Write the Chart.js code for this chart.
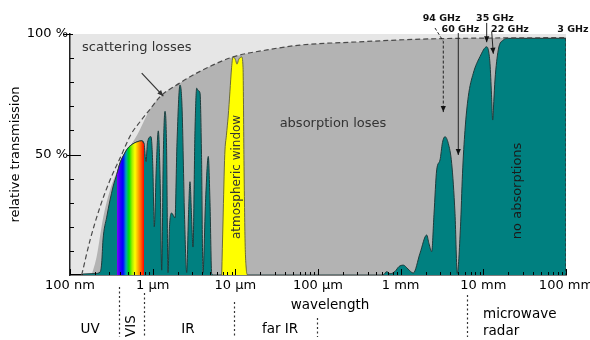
<!DOCTYPE html>
<html>
<head>
<meta charset="utf-8">
<script src="https://cdn.jsdelivr.net/npm/chart.js@4.4.0/dist/chart.umd.min.js"></script>
<style>
  html, body { margin: 0; padding: 0; background: #fff; }
  #wrap { width: 590px; height: 340px; }
</style>
</head>
<body>
<div id="wrap"><canvas id="transChart" width="590" height="340"></canvas></div>
<script>
// wavelengths in micrometres, transmission in percent
const tickValues = [0.1, 1, 10, 100, 1000, 10000, 100000];
const tickLabels = ["100 nm", "1 µm", "10 µm", "100 µm", "1 mm", "10 mm", "100 mm"];
const yTickValues = [50, 100];
const yTickLabels = ["50 %", "100 %"];

// dashed scattering limit
const scatterLambda = [0.1385, 0.175, 0.231, 0.305, 0.403, 0.55, 0.703, 0.93, 1.23, 2.14, 3.74, 9.37, 24.2, 60.6, 296, 1862, 9900, 100000];
const scatterPct = [0, 14.5, 28.3, 39.4, 48.5, 58.5, 63.6, 68.8, 74, 79.7, 84.5, 90.5, 93.4, 95.4, 96.7, 97.9, 98.3, 98.5];

// grey absorption envelope
const envelopeLambda = [0.183, 0.21, 0.253, 0.305, 0.403, 0.503, 0.646, 0.93, 1.23, 2.14, 3.74, 9.37, 24.2, 60.6, 296, 1862, 9900, 100000];
const envelopePct = [0, 7.6, 24.2, 35.3, 45.5, 52, 58, 68.8, 74, 79.7, 84.5, 90.5, 93.4, 95.4, 96.7, 97.9, 98.3, 98.5];

// measured transmission
const transLambda = [0.1436, 0.2006, 0.231, 0.2418, 0.2507, 0.278, 0.331, 0.37, 0.403, 0.45, 0.503, 0.57, 0.641, 0.737, 0.786,
  0.831, 0.866, 0.955, 1.004, 1.046, 1.107, 1.17, 1.23, 1.286, 1.345, 1.41, 1.47, 1.533, 1.598, 1.699, 1.863, 1.97, 2.14,
  2.264, 2.427, 2.58, 2.713, 2.828, 2.949, 3.075, 3.251, 3.409, 3.564, 3.74, 3.897, 4.063, 4.356, 4.71, 4.938, 5.178, 5.52,
  611, 678, 743, 854, 954, 1076, 1226, 1421, 1713, 2064, 2201, 2373, 2529, 2728, 2990, 3205, 3437, 3767, 4141, 4541, 4841,
  5292, 5595, 5998, 6574, 7556, 9110, 10980, 12034, 12550, 12977, 13380, 13834, 15165, 17434, 20038, 100000];
const transPct = [0.4, 0.6, 1.2, 5, 14.5, 24, 36.5, 42, 46.5, 50, 52.7, 54.3, 55.2, 55.7, 54.5,
  47, 55, 57.4, 45, 20, 45, 59.8, 40, 2, 50, 67.9, 55, 1, 20, 25.7, 23.7, 55, 78.8,
  70, 25, 1, 25, 38.7, 25, 11.6, 60, 77.5, 76.5, 75.5, 50, 1, 30, 49.2, 30, 0.5, 0,
  0, 1.4, 0.5, 1.5, 3.5, 4.1, 2.5, 0.8, 9, 16.6, 13, 9.7, 25, 43.6, 47.7, 55, 57.4, 54.6, 46.3, 25.6, 0.7,
  20, 42, 60, 74, 83.7, 90.6, 94.7, 87.8, 75, 64.3, 72, 80.9, 93.4, 97.5, 98.2, 98.2];

// atmospheric window (yellow)
const windowLambda = [6.84, 7.09, 7.45, 7.8, 8.2, 8.6, 9.0, 9.37, 10.0, 10.47, 11.0, 11.94, 12.4, 12.7, 13.1, 13.6, 14.0];
const windowPct = [0, 22, 50, 58, 66, 76, 86, 90.5, 89.5, 87.5, 89.5, 90.5, 86, 50, 15, 2, 0];

// visible band (rainbow)
const visLambda = [0.37, 0.403, 0.45, 0.503, 0.57, 0.641, 0.737, 0.786];
const visPct = [42, 46.5, 50, 52.7, 54.3, 55.2, 55.7, 54.5];
const visColors = ["#8000ff", "#3000ff", "#0000ff", "#00a0c0", "#00e000", "#a0f000", "#ffff00", "#ffb000", "#ff6000", "#ff0000"];

const FONT = "DejaVu Sans";

function pts(xs, ys) {
    return xs.map((x, i) => ({ x: x, y: ys[i] }));
}

function drawArrow(ctx, path, dash) {
    ctx.save();
    ctx.setLineDash(dash || []);
    ctx.beginPath();
    ctx.moveTo(path[0][0], path[0][1]);
    for (let i = 1; i < path.length; i++) ctx.lineTo(path[i][0], path[i][1]);
    ctx.stroke();
    ctx.setLineDash([]);
    const [x1, y1] = path[path.length - 1];
    const [x0, y0] = path[path.length - 2];
    const ang = Math.atan2(y1 - y0, x1 - x0);
    const L = 6, W = 2.6;
    ctx.beginPath();
    ctx.moveTo(x1, y1);
    ctx.lineTo(x1 - L * Math.cos(ang) + W * Math.sin(ang), y1 - L * Math.sin(ang) - W * Math.cos(ang));
    ctx.lineTo(x1 - L * Math.cos(ang) - W * Math.sin(ang), y1 - L * Math.sin(ang) + W * Math.cos(ang));
    ctx.closePath();
    ctx.fill();
    ctx.restore();
}

const decor = {
    id: "decor",
    beforeDraw(chart) {
        const { ctx, chartArea: a } = chart;
        ctx.save();
        ctx.fillStyle = "#e6e6e6";
        ctx.fillRect(a.left, a.top, a.right - a.left, a.bottom - a.top);
        ctx.restore();
    },
    afterDraw(chart) {
        const { ctx, chartArea: a, scales: { x, y } } = chart;
        const px = v => x.getPixelForValue(v);
        const py = v => y.getPixelForValue(v);
        ctx.save();

        // right edge of the transmission area
        ctx.strokeStyle = "#2a4040";
        ctx.lineWidth = 1;
        ctx.setLineDash([3, 2]);
        ctx.beginPath();
        ctx.moveTo(a.right - 0.5, py(transPct[transPct.length - 1]));
        ctx.lineTo(a.right - 0.5, a.bottom);
        ctx.stroke();
        ctx.setLineDash([]);

        // inward ticks on x
        ctx.strokeStyle = "#000";
        ctx.lineWidth = 1;
        ctx.beginPath();
        for (let d = 0.1; d < 100001; d *= 10) {
            const X = Math.round(px(d)) + 0.5;
            ctx.moveTo(X, a.bottom); ctx.lineTo(X, a.bottom - 6);
            if (d < 100000) {
                for (let k = 2; k < 10; k++) {
                    const Xm = Math.round(px(d * k)) + 0.5;
                    ctx.moveTo(Xm, a.bottom); ctx.lineTo(Xm, a.bottom - 3);
                }
            }
        }
        // ticks on y
        for (let v = 10; v < 100; v += 10) {
            const Y = Math.round(py(v)) + 0.5;
            if (v === 50) { ctx.moveTo(a.left - 3, Y); ctx.lineTo(a.left + 11, Y); }
            else { ctx.moveTo(a.left, Y); ctx.lineTo(a.left + 4, Y); }
        }
        const Y100 = Math.round(py(100)) + 0.5;
        ctx.moveTo(a.left - 7, Y100); ctx.lineTo(a.left + 3, Y100);
        ctx.stroke();

        // labels inside the plot
        ctx.fillStyle = "#333";
        ctx.strokeStyle = "#333";
        ctx.textAlign = "left";
        ctx.textBaseline = "middle";
        ctx.font = "13px '" + FONT + "'";
        ctx.fillText("scattering losses", px(0.1397), py(94.2));
        ctx.lineWidth = 1.2;
        drawArrow(ctx, [[px(0.737), py(83.8)], [px(1.345), py(74.2)]]);

        ctx.textAlign = "center";
        ctx.fillText("absorption loses", px(151.8), py(62.7));

        ctx.save();
        ctx.translate(px(10.47), py(40.7));
        ctx.rotate(-Math.PI / 2);
        ctx.font = "12px '" + FONT + "'";
        ctx.fillText("atmospheric window", 0, 0);
        ctx.restore();

        ctx.save();
        ctx.translate(px(26240), py(34.9));
        ctx.rotate(-Math.PI / 2);
        ctx.fillStyle = "#1a1a1a";
        ctx.fillText("no absorptions", 0, 0);
        ctx.restore();

        // GHz labels and arrows
        ctx.fillStyle = "#111";
        ctx.strokeStyle = "#222";
        ctx.font = "bold 9.5px '" + FONT + "'";
        ctx.fillText("94 GHz", px(3131), py(106.5));
        ctx.fillText("60 GHz", px(5292), py(102));
        ctx.fillText("35 GHz", px(13836), py(106.5));
        ctx.fillText("22 GHz", px(20990), py(102));
        ctx.fillText("3 GHz", px(121400), py(102));
        ctx.lineWidth = 1;
        drawArrow(ctx, [[px(2600), py(102.5)], [px(3278), py(97)], [px(3278), py(67.6)]], [3, 2]);
        drawArrow(ctx, [[px(4977), py(100.4)], [px(4977), py(49.8)]]);
        drawArrow(ctx, [[px(10980), py(104.6)], [px(10980), py(96.6)]]);
        drawArrow(ctx, [[px(12620), py(101)], [px(13200), py(91.8)]]);

        // bands below the axis
        const b = a.bottom;
        ctx.fillStyle = "#000";
        ctx.font = "13.5px '" + FONT + "'";
        ctx.fillText("wavelength", px(139.6), b + 30);
        ctx.fillText("UV", px(0.175), b + 54);
        ctx.fillText("IR", px(2.676), b + 54);
        ctx.fillText("far IR", px(34.7), b + 54);
        ctx.textAlign = "left";
        ctx.fillText("microwave", px(9908), b + 39);
        ctx.fillText("radar", px(9908), b + 56);
        ctx.save();
        ctx.translate(px(0.558), b + 51);
        ctx.rotate(-Math.PI / 2);
        ctx.textAlign = "center";
        ctx.fillText("VIS", 0, 0);
        ctx.restore();

        ctx.strokeStyle = "#333";
        ctx.lineWidth = 1.2;
        ctx.setLineDash([2, 2.5]);
        ctx.beginPath();
        [[0.3915, 12], [0.792, 18], [9.72, 27], [96.4, 43], [6290, 20]].forEach(([lam, top]) => {
            const X = Math.round(px(lam)) + 0.5;
            ctx.moveTo(X, b + top); ctx.lineTo(X, b + 62);
        });
        ctx.stroke();
        ctx.restore();
    }
};

const canvas = document.getElementById("transChart");
const ctx = canvas.getContext("2d");

new Chart(ctx, {
    type: "line",
    data: {
        datasets: [
            {
                label: "scattering",
                data: pts(scatterLambda, scatterPct),
                borderColor: "#4a4a4a",
                borderWidth: 1.2,
                borderDash: [5, 3],
                fill: false,
                cubicInterpolationMode: "monotone",
                order: 1
            },
            {
                label: "visible",
                data: pts(visLambda, visPct),
                borderColor: "#2a3a3a",
                borderWidth: 1,
                backgroundColor: (c) => {
                    const chart = c.chart;
                    if (!chart.chartArea) return "#00aa00";
                    const xs = chart.scales.x;
                    const x0 = xs.getPixelForValue(visLambda[0]);
                    const x1 = xs.getPixelForValue(visLambda[visLambda.length - 1]);
                    const g = chart.ctx.createLinearGradient(x0, 0, x1, 0);
                    visColors.forEach((col, i) => g.addColorStop(i / (visColors.length - 1), col));
                    return g;
                },
                fill: "origin",
                cubicInterpolationMode: "monotone",
                order: 2
            },
            {
                label: "window",
                data: pts(windowLambda, windowPct),
                borderColor: "#6b6b3a",
                borderWidth: 1,
                backgroundColor: "#ffff00",
                fill: "origin",
                cubicInterpolationMode: "monotone",
                order: 3
            },
            {
                label: "transmission",
                data: pts(transLambda, transPct),
                borderColor: "#1e3c3c",
                borderWidth: 1,
                backgroundColor: "#008080",
                fill: "origin",
                cubicInterpolationMode: "monotone",
                order: 4
            },
            {
                label: "absorption",
                data: pts(envelopeLambda, envelopePct),
                borderWidth: 0,
                borderColor: "rgba(0,0,0,0)",
                backgroundColor: "#b3b3b3",
                fill: "origin",
                cubicInterpolationMode: "monotone",
                order: 5
            }
        ]
    },
    options: {
        responsive: false,
        animation: false,
        events: [],
        layout: { padding: { top: 34, right: 24, left: 0, bottom: 0 } },
        elements: { point: { radius: 0 } },
        plugins: {
            legend: { display: false },
            tooltip: { enabled: false }
        },
        scales: {
            x: {
                type: "logarithmic",
                min: 0.1,
                max: 100000,
                afterFit: (s) => { s.height = 65; s.paddingLeft = 0; s.paddingRight = 0; },
                afterBuildTicks: (s) => { s.ticks = tickValues.map(v => ({ value: v })); },
                grid: { display: false, drawTicks: false },
                border: { display: true, color: "#000", width: 1.5 },
                ticks: {
                    autoSkip: false,
                    maxRotation: 0,
                    padding: 3,
                    color: "#000",
                    font: { family: FONT, size: 13 },
                    callback: (v) => tickLabels[tickValues.indexOf(v)] || ""
                }
            },
            y: {
                min: 0,
                max: 100,
                afterFit: (s) => { s.width = 70; s.paddingTop = 0; s.paddingBottom = 0; },
                afterBuildTicks: (s) => { s.ticks = yTickValues.map(v => ({ value: v })); },
                grid: { display: false, drawTicks: false },
                border: { display: true, color: "#222", width: 1.5 },
                ticks: {
                    padding: 2,
                    color: "#000",
                    font: { family: FONT, size: 13 },
                    callback: (v) => yTickLabels[yTickValues.indexOf(v)] || ""
                },
                title: {
                    display: true,
                    text: "relative transmission",
                    color: "#000",
                    font: { family: FONT, size: 13 },
                    padding: { top: 8, bottom: 0 }
                }
            }
        }
    },
    plugins: [decor]
});
</script>
</body>
</html>
